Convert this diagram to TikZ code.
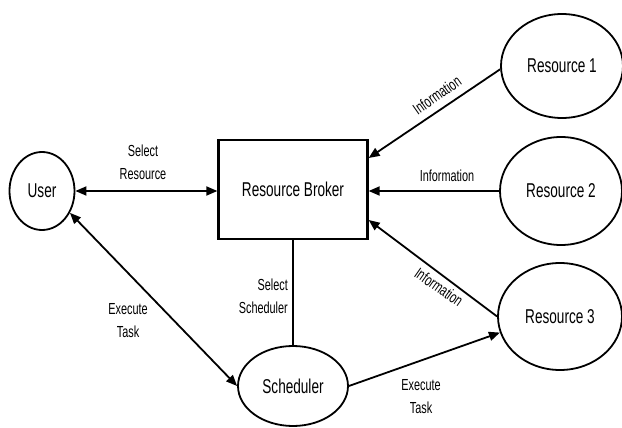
\documentclass[tikz,border=0pt]{standalone}
\usepackage{fontspec}
\setmainfont{Liberation Sans}[FakeStretch=0.68]
\usetikzlibrary{arrows.meta,shapes.geometric}
\begin{document}
\begin{tikzpicture}[x=1pt,y=-1pt,
  ell/.style={draw, ellipse, line width=1.8pt, inner sep=0pt, font=\fontsize{20}{23}\selectfont},
  boxnode/.style={draw, rectangle, line width=2.3pt, inner sep=0pt, font=\fontsize{20}{23}\selectfont},
  lbl/.style={font=\fontsize{16}{23}\selectfont, align=center, inner sep=0pt},
  conn/.style={line width=1.8pt},
  tip/.tip={Triangle[length=11pt,width=9pt]}
]
\useasboundingbox (0,0) rectangle (622,428);
\fill[white] (0,0) rectangle (622,428);

\node[ell, minimum width=65, minimum height=78] (user) at (42,191) {User};
\node[boxnode, minimum width=149, minimum height=99] (broker) at (293,189.5) {Resource Broker};
\node[ell, minimum width=122, minimum height=104] (r1) at (562,66) {Resource 1};
\node[ell, minimum width=122, minimum height=108] (r2) at (561,191) {Resource 2};
\node[ell, minimum width=124, minimum height=107] (r3) at (560,316.5) {Resource 3};
\node[ell, minimum width=110, minimum height=80] (sched) at (293,386) {Scheduler};

\draw[conn, tip-tip] (user) -- (broker.west |- user);
\draw[conn, -tip] (r1.183) -- ([yshift=31.5pt]broker.east);
\draw[conn, -tip] (r2) -- (broker.east |- r2);
\draw[conn, -tip] (r3.west) -- ([yshift=-30.5pt]broker.east);
\draw[conn] (broker) -- (sched);
\draw[conn, tip-tip] (user.-38) -- (sched.west);
\draw[conn, -tip] (sched.east) -- (r3.195);

\node[lbl] (lsr) at (143,162) {Select\\Resource};
\node[lbl, rotate=35] (li1) at (437,95) {Information};
\node[lbl] (li2) at (447,176) {Information};
\node[lbl, rotate=-35] (li3) at (439,287) {Information};
\node[lbl, align=right, anchor=east] (lss) at (288,296) {Select\\Scheduler};
\node[lbl] (let1) at (128,321) {Execute\\Task};
\node[lbl] (let2) at (421,397) {Execute\\Task};
\end{tikzpicture}
\end{document}
